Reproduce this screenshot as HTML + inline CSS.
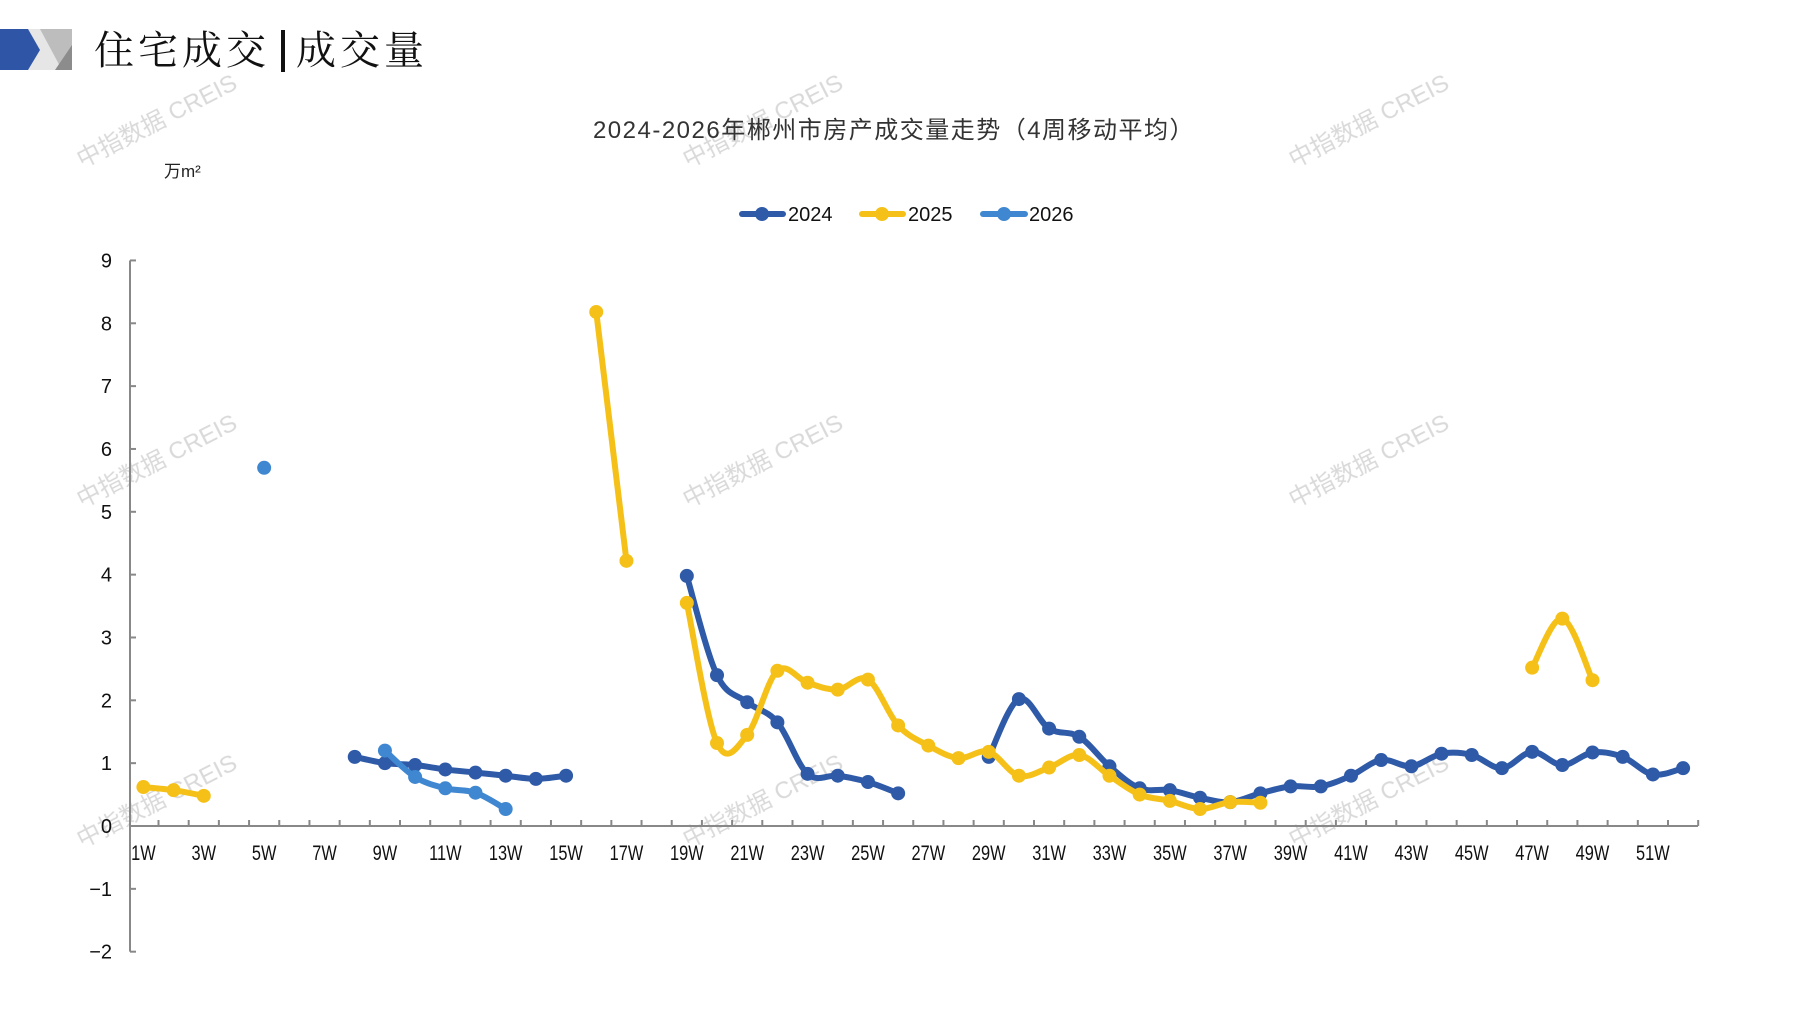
<!DOCTYPE html>
<html><head><meta charset="utf-8"><style>
html,body{margin:0;padding:0;background:#fff;}
svg{display:block;}
text{font-family:"Liberation Sans","Noto Sans CJK SC",sans-serif;}
</style></head><body>
<svg id="s" width="1797" height="1010" xmlns="http://www.w3.org/2000/svg">
<polygon points="0,29 72,29 72,70 0,70" fill="#e6e6e6"/>
<polygon points="0,29 28,29 40,50 28,70 0,70" fill="#2f56a6"/>
<polygon points="40,29 72,29 72,70 62,70" fill="#bdbdbd"/>
<polygon points="72,45 72,70 55,70" fill="#8c8c8c"/>
<text x="94" y="64" font-size="40" letter-spacing="4" style="font-family:'Noto Serif CJK SC',serif" fill="#111">住宅成交</text>
<rect x="281" y="30" width="4" height="42" fill="#111"/>
<text x="296" y="64" font-size="40" letter-spacing="4" style="font-family:'Noto Serif CJK SC',serif" fill="#111">成交量</text>
<g fill="#d0d0d0" font-size="24" opacity="0.8">
<text transform="translate(82,168) rotate(-27)">中指数据 CREIS</text>
<text transform="translate(688,168) rotate(-27)">中指数据 CREIS</text>
<text transform="translate(1294,168) rotate(-27)">中指数据 CREIS</text>
<text transform="translate(82,508) rotate(-27)">中指数据 CREIS</text>
<text transform="translate(688,508) rotate(-27)">中指数据 CREIS</text>
<text transform="translate(1294,508) rotate(-27)">中指数据 CREIS</text>
<text transform="translate(82,848) rotate(-27)">中指数据 CREIS</text>
<text transform="translate(688,848) rotate(-27)">中指数据 CREIS</text>
<text transform="translate(1294,848) rotate(-27)">中指数据 CREIS</text>
</g>
<text x="894" y="138" font-size="24" letter-spacing="1.5" text-anchor="middle" fill="#333">2024-2026年郴州市房产成交量走势（4周移动平均）</text>
<text x="164" y="177" font-size="17" fill="#222">万m²</text>
<g stroke-width="6" stroke-linecap="round">
<line x1="742" y1="214" x2="783" y2="214" stroke="#2e5aa8"/><circle cx="762" cy="214" r="7" fill="#2e5aa8"/>
<line x1="862" y1="214" x2="903" y2="214" stroke="#f5c118"/><circle cx="882" cy="214" r="7" fill="#f5c118"/>
<line x1="983" y1="214" x2="1025" y2="214" stroke="#3f87d0"/><circle cx="1004" cy="214" r="7" fill="#3f87d0"/>
</g>
<text x="788" y="221" font-size="20" fill="#111">2024</text>
<text x="908" y="221" font-size="20" fill="#111">2025</text>
<text x="1029" y="221" font-size="20" fill="#111">2026</text>
<g id="ax"></g>
<g id="ser"></g>
</svg>
<script>
var X0=130,Y0=826,U=62.84,W1=143.4,DW=30.19;
function X(w){return W1+(w-1)*DW;}function Y(v){return Y0-v*U;}
var ax=document.getElementById('ax'),h='';
h+='<line x1="'+X0+'" y1="'+Y(9)+'" x2="'+X0+'" y2="'+Y(-2)+'" stroke="#888" stroke-width="2"/>';
h+='<line x1="'+X0+'" y1="'+Y0+'" x2="1698" y2="'+Y0+'" stroke="#888" stroke-width="2"/>';
for(var v=-2;v<=9;v++){h+='<line x1="'+X0+'" y1="'+Y(v)+'" x2="'+(X0+6)+'" y2="'+Y(v)+'" stroke="#888" stroke-width="2"/>';
h+='<text x="'+(X0-18)+'" y="'+(Y(v)+7)+'" font-size="20" text-anchor="end" fill="#111">'+(v<0?'−'+(-v):v)+'</text>';}
for(var w=1;w<=52;w++){var tx=X(w)+DW/2;h+='<line x1="'+tx+'" y1="'+Y0+'" x2="'+tx+'" y2="'+(Y0-6)+'" stroke="#888" stroke-width="2"/>';
if(w%2==1)h+='<text x="0" y="0" font-size="21" text-anchor="middle" fill="#111" transform="translate('+X(w)+','+(Y0+34)+') scale(0.78,1)">'+w+'W</text>';}
ax.innerHTML=h;
var S=[
["#2e5aa8",[[[8,1.1],[9,1.0],[10,0.97],[11,0.9],[12,0.85],[13,0.8],[14,0.75],[15,0.8]],
[[19,3.98],[20,2.4],[21,1.97],[22,1.65],[23,0.83],[24,0.8],[25,0.7],[26,0.52]],
[[29,1.1],[30,2.02],[31,1.55],[32,1.42],[33,0.95],[34,0.6],[35,0.57],[36,0.45],[37,0.38],[38,0.52],[39,0.63],[40,0.63],[41,0.8],[42,1.05],[43,0.95],[44,1.15],[45,1.13],[46,0.92],[47,1.18],[48,0.97],[49,1.17],[50,1.1],[51,0.82],[52,0.92]]]],
["#f5c118",[[[1,0.62],[2,0.57],[3,0.48]],[[16,8.18],[17,4.22]],
[[19,3.55],[20,1.32],[21,1.45],[22,2.47],[23,2.28],[24,2.17],[25,2.33],[26,1.6],[27,1.28],[28,1.08],[29,1.18],[30,0.8],[31,0.93],[32,1.13],[33,0.8],[34,0.5],[35,0.4],[36,0.27],[37,0.38],[38,0.37]],
[[47,2.52],[48,3.3],[49,2.32]]]],
["#3f87d0",[[[5,5.7]],[[9,1.2],[10,0.78],[11,0.6],[12,0.53],[13,0.27]]]]
];
var g='';
S.forEach(function(s){var c=s[0];s[1].forEach(function(seg){
var p=seg.map(function(q){return [X(q[0]),Y(q[1])];});
if(p.length>1){var d='M'+p[0][0]+','+p[0][1];
for(var i=0;i<p.length-1;i++){var a=p[Math.max(i-1,0)],b=p[i],e=p[i+1],f=p[Math.min(i+2,p.length-1)];
var t=0.17;d+=' C'+(b[0]+(e[0]-a[0])*t)+','+(b[1]+(e[1]-a[1])*t)+' '+(e[0]-(f[0]-b[0])*t)+','+(e[1]-(f[1]-b[1])*t)+' '+e[0]+','+e[1];}
g+='<path d="'+d+'" fill="none" stroke="'+c+'" stroke-width="6" stroke-linejoin="round"/>';}
p.forEach(function(q){g+='<circle cx="'+q[0]+'" cy="'+q[1]+'" r="7" fill="'+c+'"/>';});
});});
document.getElementById('ser').innerHTML=g;
</script>
</body></html>
